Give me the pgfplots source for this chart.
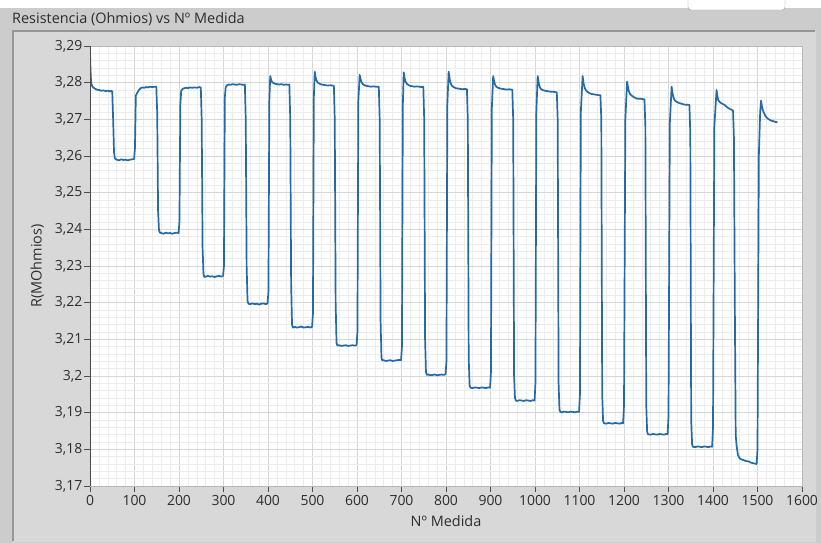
\documentclass[border=0pt]{standalone}
\usepackage{pgfplots}
\pgfplotsset{compat=1.18}
\usepackage{fontspec}
\setmainfont{Open Sans}

\definecolor{plotblue}{RGB}{36,106,166}
\definecolor{bandgrey}{RGB}{204,204,204}
\definecolor{panelgrey}{RGB}{216,216,216}
\definecolor{edgegrey}{RGB}{150,150,150}
\definecolor{gridmajor}{RGB}{214,214,214}
\definecolor{gridminor}{RGB}{236,236,236}
\definecolor{textgrey}{RGB}{45,45,45}

\pgfplotstableread{
x y
0 3.2885
1 3.2840
2 3.2812
3 3.2798
5 3.2790
8 3.2786
11 3.2784
15 3.2781
20 3.2780
25 3.2778
30 3.2779
35 3.2777
40 3.2778
45 3.2776
48 3.2778
50 3.2776
52 3.2700
54 3.2610
56 3.2593
60 3.2590
65 3.2588
70 3.2591
75 3.2589
80 3.2590
85 3.2588
90 3.2590
95 3.2591
99 3.2592
101 3.2620
103 3.2765
106 3.2772
110 3.2780
114 3.2785
118 3.2787
122 3.2786
126 3.2788
130 3.2787
135 3.2789
140 3.2788
145 3.2789
149 3.2789
151 3.2720
153 3.2450
155 3.2398
157 3.2391
160 3.2390
165 3.2388
170 3.2391
175 3.2389
180 3.2390
185 3.2388
190 3.2390
195 3.2391
199 3.2390
201 3.2420
203 3.2740
205 3.2778
208 3.2783
212 3.2785
216 3.2786
220 3.2785
225 3.2787
230 3.2786
235 3.2787
240 3.2786
245 3.2788
249 3.2787
251 3.2700
253 3.2350
255 3.2278
257 3.2270
260 3.2271
265 3.2273
270 3.2271
275 3.2272
280 3.2270
285 3.2272
290 3.2273
295 3.2271
299 3.2273
301 3.2300
303 3.2760
305 3.2788
308 3.2793
312 3.2795
316 3.2794
320 3.2796
325 3.2795
330 3.2794
335 3.2796
340 3.2795
345 3.2794
348 3.2795
350 3.2700
352 3.2300
354 3.2205
356 3.2197
360 3.2196
365 3.2198
370 3.2196
375 3.2197
380 3.2195
385 3.2197
390 3.2198
395 3.2196
399 3.2198
401 3.2230
403 3.2750
405 3.2818
407 3.2808
409 3.2802
412 3.2799
416 3.2797
420 3.2796
425 3.2795
430 3.2796
435 3.2794
440 3.2795
445 3.2794
448 3.2795
450 3.2700
452 3.2250
454 3.2140
456 3.2132
460 3.2134
465 3.2132
470 3.2133
475 3.2135
480 3.2132
485 3.2133
490 3.2134
495 3.2132
499 3.2134
501 3.2170
503 3.2760
505 3.2830
507 3.2815
509 3.2806
512 3.2800
516 3.2797
520 3.2795
525 3.2794
530 3.2793
535 3.2792
540 3.2793
545 3.2792
548 3.2792
550 3.2700
552 3.2200
554 3.2090
556 3.2083
560 3.2084
565 3.2082
570 3.2083
575 3.2084
580 3.2082
585 3.2083
590 3.2084
595 3.2083
599 3.2084
601 3.2120
603 3.2750
606 3.2821
608 3.2810
610 3.2802
613 3.2796
617 3.2793
622 3.2791
627 3.2790
632 3.2789
637 3.2790
642 3.2789
647 3.2789
649 3.2789
651 3.2700
653 3.2150
655 3.2050
657 3.2042
660 3.2043
665 3.2041
670 3.2042
675 3.2043
680 3.2041
685 3.2042
690 3.2043
695 3.2044
699 3.2043
701 3.2080
703 3.2740
705 3.2828
707 3.2812
709 3.2803
712 3.2797
716 3.2793
720 3.2791
725 3.2790
730 3.2789
735 3.2790
740 3.2789
745 3.2788
749 3.2789
751 3.2700
753 3.2100
755 3.2010
757 3.2003
760 3.2004
765 3.2002
770 3.2003
775 3.2004
780 3.2002
785 3.2003
790 3.2004
795 3.2003
799 3.2005
801 3.2040
803 3.2740
806 3.2830
808 3.2812
810 3.2800
813 3.2792
817 3.2788
822 3.2785
827 3.2784
832 3.2783
837 3.2782
842 3.2783
847 3.2782
849 3.2700
851 3.2050
853 3.1975
855 3.1968
860 3.1967
865 3.1969
870 3.1968
875 3.1967
880 3.1969
885 3.1968
890 3.1967
895 3.1969
899 3.1968
901 3.2010
903 3.2730
906 3.2818
908 3.2805
910 3.2795
913 3.2789
917 3.2786
922 3.2784
927 3.2783
932 3.2782
937 3.2781
942 3.2782
947 3.2781
949 3.2781
951 3.2700
953 3.2000
955 3.1940
957 3.1933
960 3.1932
965 3.1934
970 3.1933
975 3.1932
980 3.1934
985 3.1933
990 3.1932
995 3.1934
999 3.1933
1001 3.1980
1003 3.2720
1006 3.2818
1008 3.2802
1010 3.2790
1013 3.2783
1017 3.2780
1022 3.2778
1027 3.2777
1032 3.2776
1037 3.2775
1042 3.2775
1047 3.2774
1049 3.2774
1051 3.2700
1053 3.1980
1055 3.1908
1057 3.1902
1060 3.1901
1065 3.1903
1070 3.1902
1075 3.1901
1080 3.1903
1085 3.1902
1090 3.1901
1095 3.1903
1099 3.1902
1101 3.1950
1103 3.2720
1107 3.2818
1109 3.2800
1111 3.2788
1114 3.2780
1118 3.2775
1123 3.2771
1128 3.2769
1133 3.2768
1138 3.2767
1143 3.2766
1147 3.2766
1149 3.2700
1151 3.1950
1153 3.1878
1155 3.1871
1160 3.1870
1165 3.1872
1170 3.1871
1175 3.1870
1180 3.1872
1185 3.1871
1190 3.1870
1195 3.1872
1198 3.1871
1200 3.1920
1203 3.2700
1207 3.2803
1209 3.2788
1211 3.2776
1214 3.2768
1218 3.2764
1223 3.2760
1228 3.2757
1233 3.2756
1238 3.2756
1243 3.2755
1246 3.2755
1248 3.2680
1250 3.1920
1252 3.1848
1254 3.1841
1260 3.1840
1265 3.1842
1270 3.1841
1275 3.1840
1280 3.1842
1285 3.1841
1290 3.1840
1295 3.1842
1298 3.1841
1300 3.1890
1303 3.2690
1307 3.2789
1309 3.2772
1311 3.2760
1314 3.2752
1318 3.2748
1323 3.2745
1328 3.2743
1333 3.2741
1338 3.2740
1343 3.2740
1347 3.2739
1349 3.2660
1351 3.1880
1353 3.1814
1355 3.1807
1360 3.1806
1365 3.1808
1370 3.1807
1375 3.1806
1380 3.1808
1385 3.1807
1390 3.1806
1395 3.1808
1398 3.1807
1400 3.1860
1403 3.2680
1408 3.2780
1410 3.2762
1412 3.2752
1416 3.2746
1420 3.2743
1425 3.2740
1430 3.2735
1435 3.2730
1440 3.2727
1445 3.2724
1447 3.2650
1449 3.2200
1451 3.1840
1453 3.1810
1456 3.1785
1460 3.1775
1465 3.1772
1470 3.1770
1475 3.1768
1480 3.1767
1485 3.1764
1490 3.1762
1495 3.1761
1498 3.1760
1500 3.1800
1503 3.2600
1506 3.2720
1508 3.2751
1510 3.2735
1512 3.2725
1515 3.2716
1519 3.2707
1524 3.2701
1530 3.2697
1535 3.2695
1540 3.2693
1545 3.2692
}\medida

\begin{document}
\begin{tikzpicture}
% window background
\useasboundingbox (0,0) rectangle (821bp,-543bp);
\fill[white] (0,0) rectangle (821bp,-543bp);
\fill[bandgrey] (0,-8bp) rectangle (821bp,-543bp);
\fill[panelgrey] (13bp,-31bp) rectangle (815bp,-541bp);
\draw[edgegrey, line width=1.2bp] (13bp,-541bp) -- (13bp,-31bp) -- (815bp,-31bp);
\draw[white!85!black, line width=1bp] (815bp,-31bp) -- (815bp,-541bp) -- (13bp,-541bp);
% partial button at the top right
\draw[edgegrey, fill=white, rounded corners=3bp] (688bp,4bp) rectangle (785bp,-10bp);
\node[anchor=west, text=textgrey, font=\fontsize{14.5}{16}\selectfont, inner sep=0pt]
  at (12bp,-19bp) {Resistencia (Ohmios) vs Nº Medida};
\begin{axis}[
  at={(90bp,-486bp)}, anchor=south west,
  scale only axis, width=712bp, height=440bp,
  xmin=0, xmax=1600, ymin=3.17, ymax=3.29,
  xtick={0,100,...,1600},
  ytick={3.17,3.18,3.19,3.2,3.21,3.22,3.23,3.24,3.25,3.26,3.27,3.28,3.29},
  minor x tick num=4, minor y tick num=4,
  grid=both,
  major grid style={draw=gridmajor, line width=0.8bp},
  minor grid style={draw=gridminor, line width=0.6bp},
  axis background/.style={fill=white},
  axis line style={draw=white!72!black, line width=0.8bp},
  tick align=outside, xtick pos=bottom, ytick pos=left,
  major tick length=6bp, minor tick length=0pt,
  tick style={draw=black!70, line width=0.9bp},
  /pgf/number format/assume math mode=true,
  ticklabel style={font=\fontsize{14}{16}\selectfont, text=textgrey},
  yticklabel style={inner sep=1.5bp, /pgf/number format/.cd, use comma, fixed, precision=2},
  xticklabel style={/pgf/number format/.cd, fixed, 1000 sep={}},
  xlabel={Nº Medida}, ylabel={R(MOhmios)},
  label style={font=\fontsize{14.5}{16}\selectfont, text=textgrey},
  xlabel style={anchor=center, at={(axis description cs:0.5,-0.08)}},
  ylabel style={anchor=center, at={(axis description cs:-0.074,0.5)}},
  clip=true,
]
\addplot[plotblue, line width=1.7bp, line join=round] table[x=x, y=y] {\medida};
\draw[black!70, line width=1bp] (rel axis cs:0,0) -- (rel axis cs:0,1);
\end{axis}
\end{tikzpicture}
\end{document}
